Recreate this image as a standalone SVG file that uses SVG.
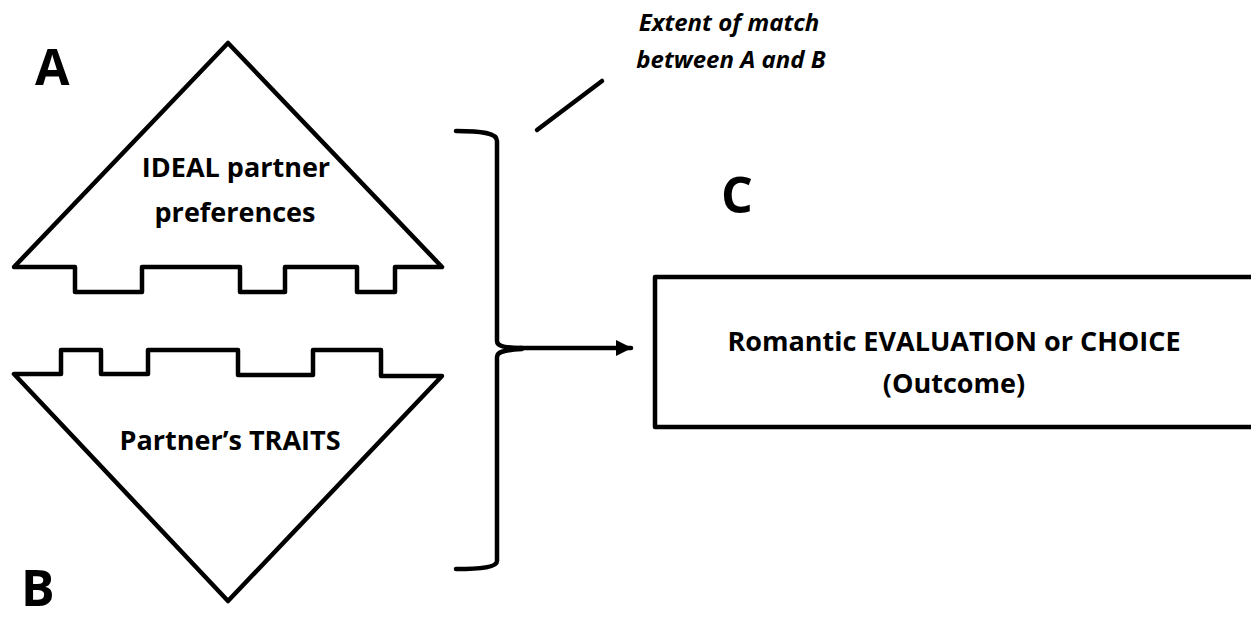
<svg xmlns="http://www.w3.org/2000/svg" width="1251" height="622" viewBox="0 0 1251 622">
<style>
.shape{fill:#fff;stroke:#000;stroke-width:4.5;stroke-linejoin:round;stroke-linecap:round}
.line{fill:none;stroke:#000;stroke-width:4.5;stroke-linecap:round;stroke-linejoin:round}
.t{font-family:"Open Sans","Noto Sans","Liberation Sans",sans-serif;font-weight:bold;fill:#000}
.big{font-size:50px}
.lbl{font-size:27px;text-anchor:middle}
.it{font-size:24px;font-style:italic;text-anchor:middle}
</style>
<defs>
<marker id="arrow" markerWidth="16" markerHeight="16" refX="15" refY="8" orient="auto" markerUnits="userSpaceOnUse">
<path d="M0,0 L16,8 L0,16 Z" fill="#000"/>
</marker>
</defs>
<rect width="1251" height="622" fill="#fff"/>
<g id="nodeA">
<polygon class="shape" points="228,43 442,267 395,267 395,292 357,292 357,267 285,267 285,292 240,292 240,267 142,267 142,292 75,292 75,267 14,267"/>
<text class="t lbl" x="236" y="177">IDEAL partner</text>
<text class="t lbl" x="235" y="222">preferences</text>
</g>
<g id="nodeB">
<polygon class="shape" points="14,374 61,374 61,350 101,350 101,374 148,374 148,350 238,350 238,375 313,375 313,350 381,350 381,376 442,376 228,601"/>
<text class="t lbl" x="230" y="450">Partner’s TRAITS</text>
</g>
<g id="nodeC">
<rect class="shape" x="655" y="277" width="610" height="150"/>
<text class="t lbl" x="954" y="351">Romantic EVALUATION or CHOICE</text>
<text class="t lbl" x="954" y="393">(Outcome)</text>
</g>
<g id="labels">
<text class="t big" x="35" y="85">A</text>
<text class="t big" x="21" y="606">B</text>
<text class="t big" x="721" y="213">C</text>
<text class="t it" x="729" y="31">Extent of match</text>
<text class="t it" x="731" y="68">between A and B</text>
</g>
<g id="connectors">
<path class="line" d="M456,131 C482,131 497,133 497,141 L497,341 C497,346 504,348 522,348"/>
<path class="line" d="M522,349 C504,350 497,352 497,357 L497,561 C497,567 482,569 456,569"/>
<line class="line" x1="520" y1="348" x2="631" y2="348" marker-end="url(#arrow)"/>
<line class="line" x1="537" y1="130" x2="602" y2="81"/>
</g>
</svg>
